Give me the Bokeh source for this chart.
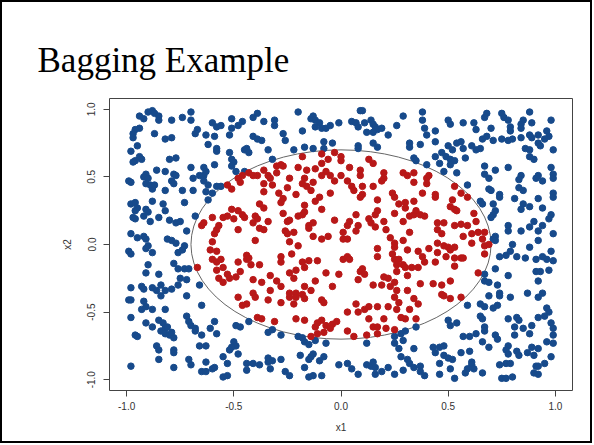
from bokeh.plotting import figure
from bokeh.models import FixedTicker
from bokeh.layouts import column
from bokeh.embed import file_html
from bokeh.resources import INLINE

title_text = "Bagging Example"
x_label = "x1"
y_label = "x2"
tick_values = [-1.0, -0.5, 0.0, 0.5, 1.0]
tick_labels = ["-1.0", "-0.5", "0.0", "0.5", "1.0"]
boundary_radius = 0.7

# class 0 (outside the circle) - blue
blue_x = [
    -0.94, -0.92, -0.90, -0.88, -0.87, -0.85, -0.85, -0.79, -0.74, -0.70, -0.70, -0.67, -0.68, -0.63, -0.60, -0.58, -0.56,
    -0.59, -0.62, -0.58, -0.58, -0.59, -0.64, -0.63, -0.70, -0.66, -0.64, -0.64, -0.62, -0.58, -0.56, -0.94, -0.96, -0.97,
    -0.97, -0.95, -0.98, -0.94, -0.93, -0.96, -0.97, -0.87, -0.82, -0.79, -0.80, -0.77, -0.86, -0.82, -0.78, -0.77, -0.91,
    -0.92, -0.90, -0.91, -0.89, -0.88, -0.87, -0.99, -0.98, -0.79, -0.78, -0.82, -0.74, -0.69, -0.63, -0.60, -0.69,
    -0.51, -0.46, -0.48, -0.51, -0.52, -0.41, -0.39, -0.36, -0.31, -0.31, -0.41, -0.39, -0.37, -0.27, -0.26, -0.20, -0.18,
    -0.14, -0.13, -0.12, -0.10, -0.12, -0.09, -0.07, -0.05, -0.01, -0.04, -0.08, -0.08, -0.17, -0.13, -0.22, -0.34, -0.45,
    -0.44, -0.43, -0.52, -0.51, -0.50, -0.51, -0.49, -0.45, -0.32,
    0.09, 0.10, 0.05, 0.07, 0.08, 0.11, 0.12, 0.14, 0.15, 0.16, 0.17, 0.15, 0.19, 0.22, 0.26, 0.29, 0.38, 0.38, 0.39, 0.40,
    0.44, 0.44, 0.50, 0.51, 0.08, 0.08, 0.15, 0.17, 0.32, 0.32, 0.37, 0.34, 0.35, 0.40, 0.44, 0.46, 0.47, 0.50, 0.52, 0.54,
    0.49, 0.51, 0.53, 0.48, 0.54, 0.51,
    0.68, 0.67, 0.75, 0.76, 0.78, 0.79, 0.79, 0.88, 0.89, 0.85, 0.84, 0.84, 0.98, 0.62, 0.63, 0.57, 0.70, 0.66, 0.68, 0.71,
    0.75, 0.78, 0.80, 0.84, 0.88, 0.89, 0.92, 0.96, 0.97, 0.95, 0.92, 0.61, 0.63, 0.65, 0.57, 0.56, 0.86, 0.88, 0.93, 0.99,
    0.88, 0.90, 0.58, 0.67, 0.72, 0.78, 0.67, 0.69, 0.84, 0.83, 0.92, 0.91, 0.94, 0.98, 0.99, 0.99, 0.59, 0.69, 0.70, 0.74,
    0.83, 0.85, 0.99,
    -0.98, -0.96, -0.95, -0.96, -0.97, -0.96, -0.92, -0.91, -0.90, -0.88, -0.83, -0.82, -0.85, -0.89, -0.80, -0.77, -0.75,
    -0.73, -0.68, -0.62, -0.72, -0.98, -0.95, -0.92, -0.91, -0.81, -0.79, -0.77, -0.90, -0.91, -0.88, -0.73, -0.99, -0.98,
    -0.76, -0.74, -0.90, -0.91, -0.85, -0.78, -0.76, -0.73, -0.71, -0.75, -0.72, -0.76, -0.98, -0.93, -0.92, -0.88, -0.86,
    -0.84, -0.82, -0.79, -0.66,
    0.65, 0.66, 0.71, 0.72, 0.71, 0.70, 0.74, 0.81, 0.85, 0.84, 0.88, 0.92, 0.94, 0.99, 0.98, 0.97, 0.90, 0.78, 0.78, 0.84,
    0.88, 0.92, 0.94, 0.99, 0.71, 0.72, 0.72, 0.80, 0.92, 0.88, 0.74, 0.77, 0.79, 0.82, 0.86, 0.91, 0.94, 0.96, 0.98, 0.99,
    0.72, 0.91, 0.93, 0.97, 0.67, 0.67, 0.69, 0.78, 0.73, 0.92, 0.74, 0.87, 0.94,
    -0.99, -0.98, -0.92, -0.84, -0.72, -0.98, -0.93, -0.91, -0.88, -0.82, -0.91, -0.88, -0.96, -0.95, -0.85, -0.83, -0.84,
    -0.82, -0.81, -0.82, -0.80, -0.78, -0.79, -0.86, -0.85, -0.78, -0.78, -0.85, -0.78, -0.98, -0.72, -0.71, -0.70, -0.68,
    -0.68, -0.65, -0.59, -0.61, -0.58, -0.65, -0.66, -0.63, -0.71, -0.70, -0.63, -0.65, -0.63, -0.60, -0.59, -0.55, -0.55,
    -0.49, -0.47, -0.43, -0.34, -0.32, -0.28, -0.20, -0.18, -0.17, -0.15, -0.12, -0.07, -0.50, -0.49, -0.51, -0.48, -0.52,
    -0.53, -0.44, -0.44, -0.41, -0.38, -0.34, -0.34, -0.32, -0.33, -0.28, -0.19, -0.14, -0.13, -0.15, -0.08, -0.17, -0.10,
    -0.26, -0.24, -0.15, -0.13, -0.09, -0.01, -0.53,
    0.25, 0.28, 0.30, 0.35, 0.12, 0.25, 0.27, 0.29, 0.34, 0.28, 0.31, 0.32, 0.29, 0.03, 0.05, 0.08, 0.12, 0.14, 0.15, 0.16,
    0.16, 0.19, 0.22, 0.25, 0.34, 0.37, 0.37, 0.39, 0.43, 0.44, 0.46, 0.48, 0.48, 0.50, 0.52, 0.46, 0.51, 0.46, 0.53, 0.50,
    0.51, 0.54,
    0.59, 0.65, 0.67, 0.71, 0.73, 0.69, 0.74, 0.79, 0.92, 0.96, 0.97, 0.95, 0.92, 0.65, 0.66, 0.78, 0.82, 0.83, 0.81, 0.85,
    0.89, 0.98, 0.99, 0.99, 0.88, 0.81, 0.67, 0.67, 0.63, 0.60, 0.57, 0.72, 0.73, 0.69, 0.66, 0.78, 0.77, 0.78, 0.82, 0.83,
    0.87, 0.89, 0.90, 0.92, 0.96, 0.99, 0.98, 0.60, 0.56, 0.61, 0.61, 0.62, 0.59, 0.58, 0.66, 0.74, 0.77, 0.79, 0.75, 0.77,
    0.80, 0.91, 0.92, 0.95, 0.92, 0.90,
]
blue_y = [
    0.95, 0.93, 0.98, 0.99, 0.97, 0.95, 0.92, 0.92, 0.94, 0.98, 0.92, 0.85, 0.82, 0.81, 0.90, 0.87, 0.88,
    0.80, 0.74, 0.71, 0.69, 0.59, 0.57, 0.54, 0.57, 0.51, 0.51, 0.47, 0.44, 0.43, 0.43, 0.86, 0.85, 0.82,
    0.79, 0.73, 0.69, 0.65, 0.63, 0.62, 0.61, 0.82, 0.78, 0.79, 0.63, 0.64, 0.55, 0.54, 0.52, 0.51, 0.52,
    0.50, 0.49, 0.45, 0.44, 0.41, 0.44, 0.47, 0.46, 0.47, 0.45, 0.40, 0.40, 0.40, 0.39, 0.38, 0.49,
    0.93, 0.91, 0.88, 0.86, 0.81, 0.94, 0.97, 0.91, 0.92, 0.88, 0.80, 0.78, 0.77, 0.82, 0.77, 0.98, 0.84,
    0.93, 0.95, 0.92, 0.90, 0.87, 0.86, 0.86, 0.88, 0.90, 0.75, 0.76, 0.71, 0.72, 0.71, 0.70, 0.70, 0.70,
    0.71, 0.68, 0.68, 0.63, 0.61, 0.58, 0.54, 0.54, 0.63,
    0.99, 0.99, 0.91, 0.90, 0.87, 0.90, 0.83, 0.92, 0.89, 0.87, 0.85, 0.83, 0.86, 0.81, 0.88, 0.95, 0.98, 0.92, 0.86, 0.81,
    0.84, 0.76, 0.92, 0.89, 0.73, 0.71, 0.75, 0.72, 0.75, 0.72, 0.74, 0.64, 0.62, 0.59, 0.65, 0.60, 0.68, 0.73, 0.70, 0.75,
    0.65, 0.63, 0.62, 0.54, 0.53, 0.59,
    0.97, 0.94, 0.97, 0.94, 0.92, 0.87, 0.84, 0.98, 0.90, 0.92, 0.89, 0.86, 0.92, 0.90, 0.85, 0.90, 0.86, 0.78, 0.80, 0.77,
    0.78, 0.77, 0.78, 0.79, 0.81, 0.79, 0.81, 0.84, 0.80, 0.78, 0.75, 0.73, 0.70, 0.71, 0.71, 0.76, 0.71, 0.70, 0.73, 0.70,
    0.65, 0.63, 0.64, 0.58, 0.55, 0.57, 0.52, 0.49, 0.51, 0.48, 0.51, 0.49, 0.47, 0.57, 0.52, 0.49, 0.44, 0.41, 0.40, 0.37,
    0.42, 0.40, 0.38,
    0.30, 0.31, 0.27, 0.25, 0.20, 0.19, 0.21, 0.26, 0.24, 0.32, 0.30, 0.25, 0.20, 0.17, 0.18, 0.16, 0.17,
    0.31, 0.21, 0.33, 0.10, 0.08, 0.05, 0.06, 0.04, 0.04, 0.03, 0.01, -0.01, -0.03, -0.06, -0.01, -0.05, -0.07,
    -0.06, -0.04, -0.15, -0.21, -0.22, -0.14, -0.18, -0.18, -0.18, -0.25, -0.26, -0.30, -0.32, -0.31, -0.33, -0.32, -0.34,
    -0.30, -0.34, -0.33, -0.30,
    0.32, 0.30, 0.30, 0.25, 0.22, 0.20, 0.35, 0.34, 0.30, 0.26, 0.28, 0.34, 0.27, 0.35, 0.22, 0.19, 0.17, 0.14, 0.10, 0.10,
    0.13, 0.10, 0.14, 0.08, 0.04, 0.06, 0.03, 0.00, 0.03, -0.02, -0.09, -0.08, -0.05, -0.09, -0.10, -0.11, -0.09, -0.11, -0.05, -0.12,
    -0.18, -0.20, -0.20, -0.19, -0.22, -0.27, -0.28, -0.23, -0.30, -0.27, -0.36, -0.36, -0.36,
    -0.41, -0.41, -0.42, -0.38, -0.38, -0.54, -0.48, -0.46, -0.48, -0.48, -0.58, -0.61, -0.67, -0.68, -0.56, -0.58, -0.64,
    -0.62, -0.61, -0.66, -0.67, -0.69, -0.65, -0.75, -0.78, -0.78, -0.80, -0.85, -0.91, -0.90, -0.53, -0.57, -0.60, -0.62,
    -0.64, -0.45, -0.57, -0.62, -0.66, -0.67, -0.75, -0.75, -0.85, -0.89, -0.87, -0.94, -0.94, -0.92, -0.91, -0.83, -0.98,
    -0.60, -0.61, -0.57, -0.65, -0.63, -0.67, -0.68, -0.69, -0.72, -0.74, -0.71, -0.73, -0.72, -0.75, -0.76, -0.81, -0.78,
    -0.88, -0.88, -0.93, -0.88, -0.89, -0.87, -0.84, -0.86, -0.92, -0.85, -0.82, -0.83, -0.81, -0.85, -0.83, -0.91, -0.86,
    -0.94, -0.97, -0.98, -0.97, -0.97, -0.89, -0.97,
    -0.68, -0.66, -0.64, -0.61, -0.73, -0.73, -0.77, -0.71, -0.77, -0.83, -0.85, -0.88, -0.93, -0.88, -0.92, -0.96, -0.89, -0.90, -0.87, -0.91,
    -0.96, -0.94, -0.91, -0.96, -0.91, -0.90, -0.94, -0.97, -0.76, -0.80, -0.76, -0.75, -0.82, -0.84, -0.85, -0.88, -0.92, -0.96, -0.99, -0.56,
    -0.60, -0.58,
    -0.45, -0.44, -0.46, -0.47, -0.45, -0.38, -0.38, -0.39, -0.39, -0.47, -0.50, -0.53, -0.54, -0.53, -0.55, -0.55, -0.54, -0.56, -0.61, -0.62,
    -0.60, -0.58, -0.62, -0.67, -0.66, -0.67, -0.61, -0.64, -0.66, -0.68, -0.68, -0.67, -0.70, -0.76, -0.72, -0.75, -0.78, -0.81, -0.79, -0.82,
    -0.80, -0.76, -0.82, -0.77, -0.72, -0.73, -0.83, -0.79, -0.80, -0.87, -0.89, -0.92, -0.92, -0.95, -0.95, -0.89, -0.88, -0.88, -0.99, -0.99,
    -0.98, -0.90, -0.90, -0.88, -0.96, -0.95,
]

# class 1 (inside the circle) - red
red_x = [
    -0.53, -0.48, -0.46, -0.43, -0.41, -0.39, -0.36, -0.34, -0.33, -0.30, -0.28, -0.27, -0.30, -0.36, -0.32, -0.24, -0.20,
    -0.18, -0.16, -0.12, -0.09, -0.09, -0.06, -0.03, 0.00, 0.00, -0.07, 0.00, -0.05, -0.09, -0.18, -0.16, -0.13, -0.17,
    -0.25, -0.36, -0.29, -0.21, -0.14, -0.05, -0.03, -0.51, -0.47,
    0.04, 0.09, 0.09, 0.13, 0.15, 0.20, 0.20, 0.19, 0.29, 0.31, 0.34, 0.34, 0.40, 0.41, 0.40, 0.03, 0.05, 0.06, 0.10, 0.15,
    0.10, 0.24, 0.38, 0.44, 0.53, 0.56,
    -0.65, -0.64, -0.60, -0.58, -0.59, -0.57, -0.55, -0.60, -0.61, -0.58, -0.60, -0.58, -0.56, -0.58, -0.55, -0.57, -0.55, -0.67,
    -0.51, -0.48, -0.46, -0.45, -0.50, -0.53, -0.48, -0.40, -0.39, -0.41, -0.38, -0.36, -0.38, -0.36, -0.34, -0.40, -0.28,
    -0.27, -0.27, -0.25, -0.24, -0.26, -0.25, -0.22, -0.24, -0.20, -0.23, -0.20, -0.18, -0.17, -0.17, -0.12, -0.10, -0.09,
    -0.15, -0.13, -0.15, -0.13, -0.09, -0.06, -0.03, 0.01, 0.01, -0.44, -0.44, -0.43, -0.48, -0.42, -0.38, -0.53, -0.52,
    -0.47, -0.49, -0.41, -0.37, -0.33, -0.30, -0.28, -0.28, -0.24, -0.21, -0.18, -0.17, -0.15, -0.11, -0.07, -0.01, -0.22,
    -0.28, -0.33, -0.41, -0.24, -0.21, -0.18, -0.17, -0.14, -0.12, -0.04, 0.01,
    0.09, 0.17, 0.25, 0.27, 0.30, 0.30, 0.34, 0.44, 0.52, 0.53, 0.51, 0.54, 0.07, 0.04, 0.03, 0.08, 0.07, 0.13, 0.14, 0.16,
    0.17, 0.16, 0.20, 0.25, 0.29, 0.32, 0.34, 0.35, 0.37, 0.39, 0.45, 0.48, 0.53, 0.45, 0.47, 0.21, 0.23, 0.25, 0.25, 0.32,
    0.29, 0.03, 0.17, 0.17, 0.31, 0.36, 0.38, 0.41, 0.45, 0.45, 0.48, 0.50, 0.51, 0.53, 0.49, 0.53, 0.56, 0.03, 0.04, 0.24,
    0.25, 0.27, 0.26, 0.29, 0.30, 0.33, 0.36, 0.39, 0.44, 0.53, 0.09, 0.10, 0.11, 0.08, 0.20, 0.22, 0.25, 0.26, 0.31, 0.37,
    0.43, 0.47, 0.51, 0.15, 0.19, 0.23, 0.26, 0.31, 0.47,
    0.59, 0.62, 0.63, 0.59, 0.61, 0.64, 0.67, 0.66, 0.67, 0.69, 0.61, 0.57, 0.57, 0.67, 0.56, 0.64,
    -0.48, -0.44, -0.46, -0.40, -0.34, -0.28, -0.24, -0.21, -0.17, -0.22, -0.09, -0.08, -0.39, -0.37, -0.31, -0.21, -0.17,
    -0.12, -0.11, -0.09, -0.07, -0.04, -0.02, -0.05, -0.14, -0.11, -0.08,
    0.03, 0.07, 0.08, 0.11, 0.13, 0.13, 0.15, 0.17, 0.17, 0.20, 0.21, 0.22, 0.25, 0.26, 0.27, 0.28, 0.30, 0.32, 0.34, 0.36,
    0.35, 0.17, 0.12, 0.06, 0.03, 0.48, 0.51, 0.25, 0.56,
]
red_y = [
    0.44, 0.49, 0.51, 0.53, 0.51, 0.51, 0.55, 0.51, 0.49, 0.58, 0.59, 0.58, 0.53, 0.45, 0.44, 0.49, 0.57,
    0.65, 0.55, 0.56, 0.60, 0.67, 0.63, 0.68, 0.65, 0.62, 0.54, 0.51, 0.51, 0.51, 0.45, 0.43, 0.46, 0.49,
    0.42, 0.39, 0.38, 0.37, 0.40, 0.38, 0.47, 0.41, 0.46,
    0.57, 0.55, 0.51, 0.63, 0.60, 0.53, 0.49, 0.47, 0.53, 0.51, 0.53, 0.46, 0.49, 0.51, 0.45, 0.47, 0.43, 0.40, 0.43, 0.43,
    0.37, 0.38, 0.38, 0.37, 0.43, 0.38,
    0.14, 0.16, 0.20, 0.11, 0.08, 0.14, 0.20, 0.02, -0.04, -0.05, -0.11, -0.13, -0.11, -0.19, -0.17, -0.25, -0.28, -0.17,
    0.26, 0.25, 0.22, 0.20, 0.19, 0.21, 0.11, 0.21, 0.19, 0.16, 0.12, 0.11, 0.30, 0.27, 0.17, 0.03, 0.31,
    0.34, 0.23, 0.17, 0.18, 0.10, 0.08, 0.09, 0.02, -0.01, -0.07, 0.21, 0.22, 0.24, 0.29, 0.32, 0.35, 0.26,
    0.14, 0.16, 0.12, 0.06, 0.04, 0.06, 0.18, 0.09, 0.04, -0.08, -0.11, -0.10, -0.13, -0.15, -0.15, -0.22, -0.25,
    -0.20, -0.24, -0.26, -0.28, -0.23, -0.27, -0.09, -0.13, -0.21, -0.19, -0.13, -0.17, -0.12, -0.12, -0.21, -0.22, -0.25,
    -0.31, -0.34, -0.36, -0.36, -0.36, -0.37, -0.31, -0.34, -0.27, -0.31, -0.11,
    0.35, 0.33, 0.35, 0.30, 0.31, 0.27, 0.32, 0.35, 0.33, 0.26, 0.28, 0.25, 0.22, 0.17, 0.14, 0.14, 0.10, 0.19, 0.16, 0.22,
    0.25, 0.13, 0.17, 0.23, 0.17, 0.21, 0.22, 0.25, 0.22, 0.21, 0.16, 0.16, 0.14, 0.11, 0.08, 0.11, 0.05, 0.01, -0.02, 0.09,
    0.03, 0.04, -0.03, -0.09, -0.04, -0.05, -0.09, -0.03, 0.01, -0.06, -0.01, -0.02, -0.04, -0.02, -0.09, -0.10, -0.10, -0.09, -0.11, -0.07,
    -0.11, -0.11, -0.15, -0.15, -0.17, -0.17, -0.17, -0.13, -0.13, -0.16, -0.20, -0.18, -0.22, -0.26, -0.24, -0.25, -0.28, -0.20, -0.23, -0.29,
    -0.29, -0.30, -0.27, -0.30, -0.30, -0.31, -0.34, -0.34, -0.37,
    0.35, 0.23, 0.17, 0.14, 0.08, 0.09, 0.09, 0.04, -0.01, 0.00, 0.01, 0.06, -0.10, -0.07, 0.15, -0.21,
    -0.39, -0.44, -0.45, -0.39, -0.41, -0.43, -0.39, -0.39, -0.40, -0.44, -0.41, -0.43, -0.54, -0.55, -0.57, -0.55, -0.56,
    -0.61, -0.58, -0.56, -0.60, -0.59, -0.57, -0.62, -0.68, -0.66, -0.65,
    -0.50, -0.44, -0.50, -0.48, -0.46, -0.55, -0.61, -0.61, -0.46, -0.55, -0.62, -0.46, -0.39, -0.48, -0.43, -0.54, -0.55, -0.48, -0.40, -0.44,
    -0.55, -0.66, -0.67, -0.68, -0.64, -0.38, -0.40, -0.63, -0.39,
]

p = figure(width=588, height=439, x_range=(-1.08, 1.08), y_range=(-1.08, 1.08),
           output_backend="svg", toolbar_location=None,
           min_border_left=107, min_border_right=18, min_border_top=96, min_border_bottom=51,
           background_fill_color="white", border_fill_color="white")

p.title.text = title_text
p.title.text_font = "Liberation Serif"
p.title.text_font_size = "35px"
p.title.text_font_style = "normal"
p.title.text_color = "black"
p.title.align = "left"
p.title.offset = -72
p.title.standoff = 38

p.xgrid.visible = False
p.ygrid.visible = False
p.outline_line_color = "#444444"
p.outline_line_width = 1

for ax, lab in ((p.xaxis[0], x_label), (p.yaxis[0], y_label)):
    ax.ticker = FixedTicker(ticks=tick_values)
    ax.major_label_overrides = {v: t for v, t in zip(tick_values, tick_labels)}
    ax.axis_line_color = None
    ax.minor_tick_line_color = None
    ax.major_tick_in = 0
    ax.major_tick_out = 6
    ax.major_tick_line_color = "#444444"
    ax.major_label_text_font = "Liberation Sans"
    ax.major_label_text_font_size = "10px"
    ax.major_label_text_color = "#333333"
    ax.major_label_standoff = 5
    ax.axis_label = lab
    ax.axis_label_text_font = "Liberation Sans"
    ax.axis_label_text_font_size = "10px"
    ax.axis_label_text_font_style = "normal"
    ax.axis_label_text_color = "#333333"
    ax.axis_label_standoff = 9
p.yaxis[0].major_label_orientation = "parallel"
p.yaxis[0].major_label_standoff = 8
p.yaxis[0].axis_label_standoff = 12

p.ellipse(x=[0], y=[0], width=[2 * boundary_radius], height=[2 * boundary_radius],
          fill_color=None, line_color="#666666", line_width=1)
p.scatter(blue_x, blue_y, size=6.5, color="#174a8b")
p.scatter(red_x, red_y, size=6.5, color="#b81818")

layout = column(p, styles={"border": "2px solid black"})
open("out.html", "w").write(file_html(layout, INLINE))
